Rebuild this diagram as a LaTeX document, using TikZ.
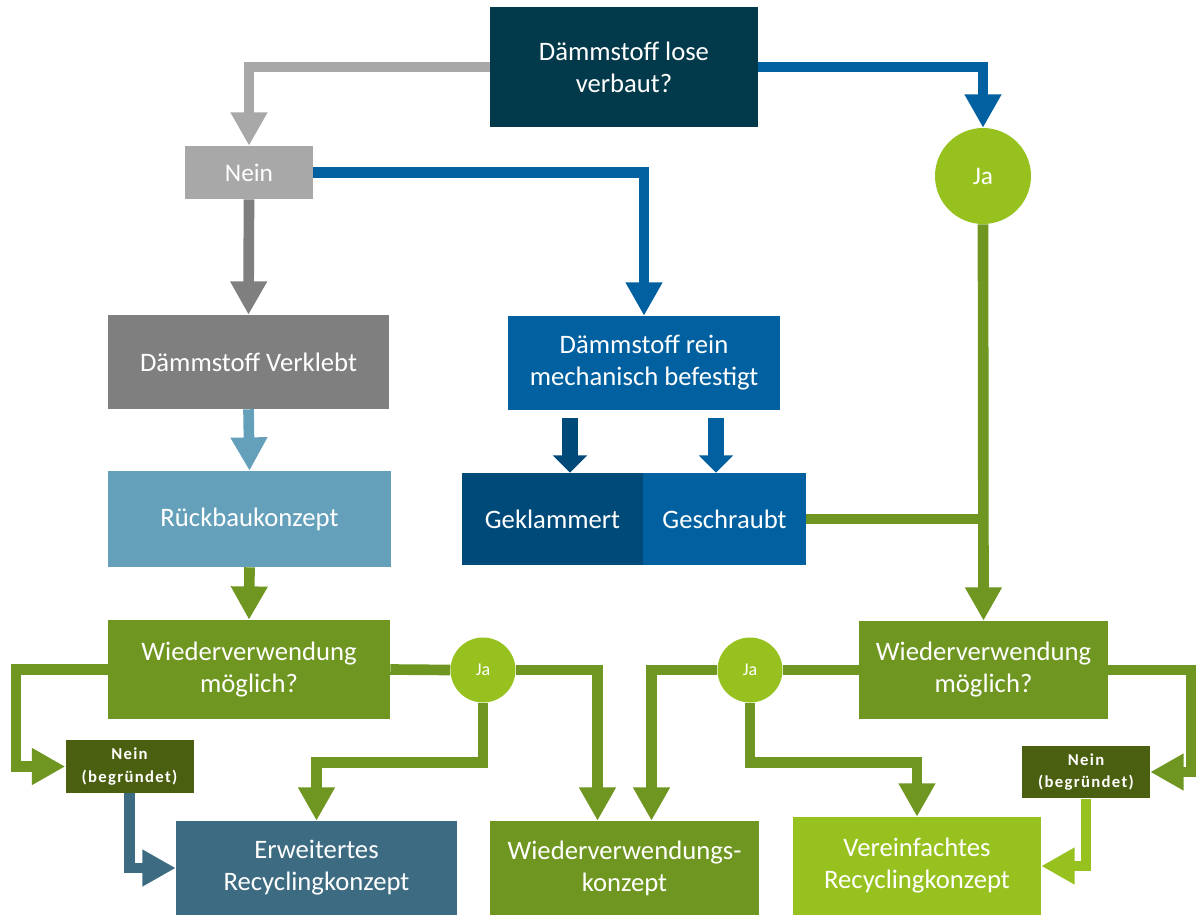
\documentclass[tikz,border=0pt]{standalone}
\usepackage{fontspec}
\setmainfont{Carlito}
\newfontfamily\rbwide[LetterSpace=8.0]{Carlito}
\usetikzlibrary{arrows.meta,calc}
\definecolor{rbnavy}{HTML}{023A4B}
\definecolor{rbgray}{HTML}{A8A8A8}
\definecolor{rbdgray}{HTML}{7F7F7F}
\definecolor{rbblue}{HTML}{0060A0}
\definecolor{rbdblue}{HTML}{004A7A}
\definecolor{rbsky}{HTML}{65A0BB}
\definecolor{rbolive}{HTML}{6F9620}
\definecolor{rblime}{HTML}{96C11F}
\definecolor{rbmoss}{HTML}{4B5F10}
\definecolor{rbteal}{HTML}{3D6B81}
\tikzset{
  flowBox/.style={fill=#1, text=white, align=center, inner sep=0pt, font=\fontsize{20}{24}\selectfont},
  neinBox/.style={fill=rbmoss, text=white, align=center, inner sep=0pt, minimum width=96pt, minimum height=39.5pt, font=\rbwide\bfseries\fontsize{12.5}{17}\selectfont},
  jaDot/.style={circle, fill=rblime, text=white, inner sep=0pt, minimum size=#1},
  flowArrow/.style={draw=#1, line width=8pt, -{Triangle[width=26pt,length=25pt]}},
  flowLine/.style={draw=#1, line width=8pt},
  splitArrow/.style={draw=#1, line width=12.5pt, -{Triangle[width=25pt,length=13pt]}}
}

\begin{document}
\begin{tikzpicture}[x=0.75pt,y=-0.75pt]
  \useasboundingbox (0,0) rectangle (1203,915);
  % boxes
  \node[flowBox=rbnavy, minimum width=201pt, minimum height=90pt] (lose) at (624,67) {Dämmstoff lose\\verbaut?};
  \node[flowBox=rbgray, minimum width=96pt, minimum height=39.75pt, font=\fontsize{19}{22}\selectfont] (nein) at (249,172.5) {Nein};
  \node[jaDot=72pt, font=\fontsize{19}{22}\selectfont] (ja) at (983,176) {Ja};
  \node[flowBox=rbdgray, minimum width=210.75pt, minimum height=70.5pt] (verklebt) at (248.5,362) {Dämmstoff Verklebt};
  \node[flowBox=rbblue, minimum width=204pt, minimum height=70.5pt] (mech) at (644,363) {Dämmstoff rein\\mechanisch befestigt};
  \node[flowBox=rbsky, minimum width=212.25pt, minimum height=72pt] (rueck) at (249.5,519) {Rückbaukonzept};
  \node[flowBox=rbdblue, minimum width=135.75pt, minimum height=69pt] (klam) at (552.5,519) {Geklammert};
  \node[flowBox=rbblue, minimum width=122.25pt, minimum height=69pt] (schraub) at (724.5,519) {Geschraubt};
  \node[flowBox=rbolive, minimum width=211.5pt, minimum height=74.25pt] (wvl) at (249,669.5) {Wiederverwendung\\möglich?};
  \node[flowBox=rbolive, minimum width=186.75pt, minimum height=73.5pt] (wvr) at (983.5,670) {Wiederverwendung\\möglich?};
  \node[jaDot=48.75pt, font=\fontsize{13.5}{16}\selectfont] (jal) at (483,670) {Ja};
  \node[jaDot=48.75pt, font=\fontsize{13.5}{16}\selectfont] (jar) at (750,670) {Ja};
  \node[neinBox] (neinl) at (129.5,766.5) {Nein\\(begründet)};
  \node[neinBox] (neinr) at (1086,772) {Nein\\(begründet)};
  \node[flowBox=rbteal, minimum width=210.75pt, minimum height=70.5pt] (erw) at (316.5,868) {Erweitertes\\Recyclingkonzept};
  \node[flowBox=rbolive, minimum width=201.75pt, minimum height=70.5pt] (wvk) at (624.5,868) {Wiederverwendungs-\\konzept};
  \node[flowBox=rblime, minimum width=186pt, minimum height=73.5pt] (ver) at (917,866) {Vereinfachtes\\Recyclingkonzept};
  % upper connectors
  \draw[flowArrow=rbgray] (lose.west) -| (nein.north);
  \draw[flowArrow=rbblue] (lose.east) -| (ja.north);
  \draw[flowArrow=rbblue] (nein.east) -| (mech.north);
  \draw[flowArrow=rbdgray] (nein.south) -- (verklebt.north);
  \draw[flowArrow=rbsky] (verklebt.south) -- (rueck.north);
  \draw[flowArrow=rbolive] (rueck.south) -- (wvl.north);
  \coordinate (ka) at ($(mech.south)+(-74,8)$);
  \coordinate (sa) at ($(mech.south)+(72,8)$);
  \draw[splitArrow=rbdblue] (ka) -- (ka |- klam.north);
  \draw[splitArrow=rbblue] (sa) -- (sa |- schraub.north);
  \draw[flowArrow=rbolive] (ja.south) -- (wvr.north);
  \draw[flowLine=rbolive] (schraub.east) -- (schraub.east -| ja.south);
  % lower connectors
  \coordinate (cl) at (16,766.5);
  \coordinate (cr) at (1191,772);
  \draw[flowArrow=rbolive] (wvl.west) -| (cl) -- (neinl.west);
  \draw[flowArrow=rbteal] (neinl.south) |- (erw.west);
  \draw[flowLine=rbolive] (wvl.east) -- (jal.west);
  \draw[flowArrow=rbolive] (jal.east) -| ($(wvk.north)+(-27,0)$);
  \draw[flowArrow=rbolive] (jal.south) -- ++(0,60) -| (erw.north);
  \draw[flowLine=rbolive] (wvr.west) -- (jar.east);
  \draw[flowArrow=rbolive] (jar.west) -| ($(wvk.north)+(27,0)$);
  \draw[flowArrow=rbolive] (jar.south) -- ++(0,60) -| (ver.north);
  \draw[flowArrow=rbolive] (wvr.east) -| (cr) -- (neinr.east);
  \draw[flowArrow=rblime] (neinr.south) |- (ver.east);
\end{tikzpicture}
\end{document}
